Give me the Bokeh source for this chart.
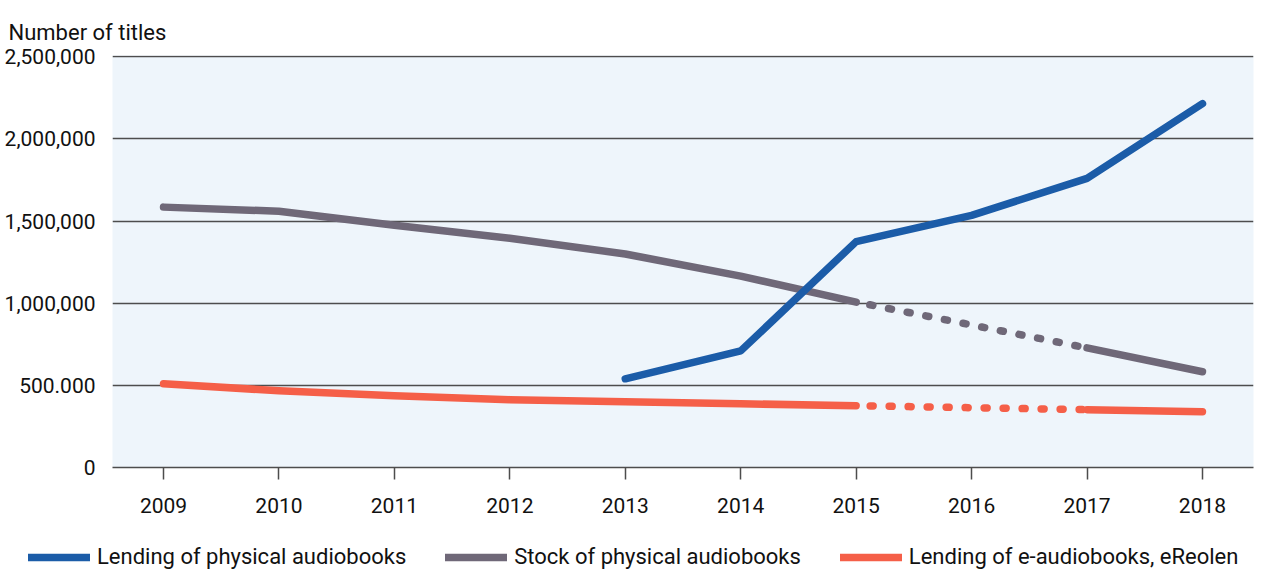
from bokeh.plotting import figure
from bokeh.layouts import column, row
from bokeh.models import (Range1d, FixedTicker, Legend, LegendItem, Title)
from bokeh.embed import file_html
from bokeh.resources import INLINE

years = [2009, 2010, 2011, 2012, 2013, 2014, 2015, 2016, 2017, 2018]
lending_physical = [None, None, None, None, 540000, 710000, 1375000, 1535000, 1760000, 2215000]
stock_physical = [1585000, 1560000, 1475000, 1395000, 1300000, 1165000, 1007000, None, 728000, 583000]
lending_ereolen = [510000, 467000, 437000, 413000, 400000, 388000, 376000, None, 352000, 340000]
series_names = ["Lending of physical audiobooks", "Stock of physical audiobooks",
                "Lending of e-audiobooks, eReolen"]
y_ticks = [0, 500000, 1000000, 1500000, 2000000, 2500000]
y_tick_labels = ["0", "500.000", "1,000,000", "1,500,000", "2,000,000", "2,500,000"]

BLUE = "#1b5ca8"
GRAY = "#6f6878"
RED = "#f55f48"
FONT = "Roboto"
FS = "21px"
LW = 7.5

p = figure(width=1257, height=530, output_backend="svg", toolbar_location=None,
           x_range=Range1d(2008.558, 2018.442), y_range=Range1d(0, 2508000),
           min_border_left=112, min_border_right=4, min_border_top=55, min_border_bottom=63)
p.outline_line_color = None
p.background_fill_color = "#eef5fb"
p.border_fill_color = "white"

p.title = Title(text="Number of titles", align="left", offset=-104,
                text_font=FONT, text_font_size="22px", text_font_style="normal",
                text_color="#111111", standoff=22)

# grid
p.xgrid.grid_line_color = None
p.ygrid.ticker = FixedTicker(ticks=y_ticks)
p.ygrid.grid_line_color = "#4d4d4d"
p.ygrid.grid_line_width = 1.5

# y axis
p.yaxis.ticker = FixedTicker(ticks=y_ticks)
p.yaxis.major_label_overrides = {t: l for t, l in zip(y_ticks, y_tick_labels)}
p.yaxis.axis_line_color = None
p.yaxis.major_tick_line_color = None
p.yaxis.minor_tick_line_color = None
p.yaxis.major_label_standoff = 11
p.yaxis.major_label_text_font = FONT
p.yaxis.major_label_text_font_size = FS
p.yaxis.major_label_text_color = "#111111"

# x axis
p.xaxis.ticker = FixedTicker(ticks=years)
p.xaxis.axis_line_color = "#4d4d4d"
p.xaxis.axis_line_width = 1.5
p.xaxis.major_tick_line_color = "#4d4d4d"
p.xaxis.major_tick_line_width = 1.5
p.xaxis.major_tick_in = 0
p.xaxis.major_tick_out = 12
p.xaxis.minor_tick_line_color = None
p.xaxis.major_label_standoff = 18
p.xaxis.major_label_text_font = FONT
p.xaxis.major_label_text_font_size = FS
p.xaxis.major_label_text_color = "#111111"


def segments(xs, ys):
    """split into solid runs and bridging (dotted) pairs across missing values"""
    runs, cur = [], []
    for x, y in zip(xs, ys):
        if y is None:
            if cur:
                runs.append(cur)
            cur = []
        else:
            cur.append((x, y))
    if cur:
        runs.append(cur)
    bridges = [[a[-1], b[0]] for a, b in zip(runs[:-1], runs[1:])]
    return runs, bridges


def draw(ys, color):
    runs, bridges = segments(years, ys)
    for r in runs:
        p.line([q[0] for q in r], [q[1] for q in r], line_color=color, line_width=LW,
               line_cap="round", line_join="round")
    for b in bridges:
        p.line([q[0] for q in b], [q[1] for q in b], line_color=color, line_width=LW,
               line_cap="round", line_dash="3 16", line_dash_offset=-14)


draw(lending_ereolen, RED)
draw(stock_physical, GRAY)
draw(lending_physical, BLUE)

# legend strip below the chart
lg = figure(width=1257, height=47, output_backend="svg", toolbar_location=None,
            min_border=0, x_range=Range1d(0, 1), y_range=Range1d(0, 1),
            x_axis_location=None, y_axis_location=None)
lg.grid.visible = False
lg.outline_line_color = None
lg.background_fill_color = "white"
items = []
for name, color, ys in zip(series_names, [BLUE, GRAY, RED],
                           [lending_physical, stock_physical, lending_ereolen]):
    r = lg.line(years, [v if v is not None else float("nan") for v in ys],
                line_color=color, line_width=LW, line_cap="round")
    items.append(LegendItem(label=name, renderers=[r]))
legend = Legend(items=items, orientation="horizontal", location=(28, 8))
legend.background_fill_alpha = 0
legend.border_line_color = None
legend.label_text_font = FONT
legend.label_text_font_size = "22px"
legend.label_text_color = "#111111"
legend.glyph_width = 62
legend.glyph_height = 22
legend.label_standoff = 7
legend.spacing = 39
legend.padding = 0
legend.margin = 0
lg.add_layout(legend, "center")

open("out.html", "w").write(file_html(column(p, row(lg)), INLINE))
